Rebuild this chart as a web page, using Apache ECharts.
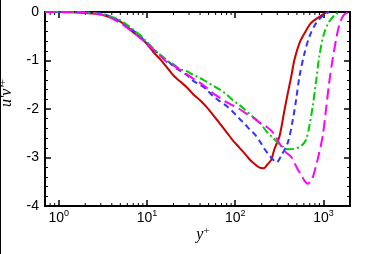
<!DOCTYPE html>
<html>
<head>
<meta charset="utf-8">
<script src="https://cdn.jsdelivr.net/npm/echarts@6/dist/echarts.min.js"></script>
<style>html,body{margin:0;padding:0;background:#fff;}#c{width:384px;height:254px;}</style>
</head>
<body>
<div id="c"></div>
<script>
// ---- data ----
const redX = [0.7,1,1.5,2,3,4,5,6,7,8.4,10,11.9,14.1,17,20,24,28.3,33.6,40,47.5,56.6,67,80,94.5,112,130,146,165,189,210,233,256,278,318,363,395,432,470,535,610,720,899,1010,1100];
const redY = [0,0,-0.01,-0.02,-0.05,-0.12,-0.2,-0.3,-0.42,-0.52,-0.66,-0.83,-0.97,-1.15,-1.31,-1.44,-1.55,-1.7,-1.82,-1.96,-2.13,-2.3,-2.48,-2.65,-2.8,-2.93,-3.04,-3.13,-3.21,-3.22,-3.14,-3.05,-2.83,-2.56,-2.01,-1.67,-1.33,-0.98,-0.64,-0.44,-0.23,-0.1,-0.04,0];

const blueX = [0.7,1,1.5,2,3,4,5,6,7,8.4,10,11.9,14.1,17,20,24,28.3,33.6,40,47.5,56.6,67,80,94.5,112,130,146,166,189,216,250,278,295,331,395,450,491,535,610,693,825,1010,1160];
const blueY = [0,0,0,-0.01,-0.03,-0.1,-0.2,-0.3,-0.38,-0.5,-0.64,-0.78,-0.88,-1.0,-1.12,-1.22,-1.3,-1.42,-1.5,-1.6,-1.74,-1.84,-1.94,-2.06,-2.2,-2.32,-2.42,-2.52,-2.66,-2.83,-2.98,-3.07,-3.1,-2.97,-2.69,-2.22,-1.8,-1.33,-0.85,-0.51,-0.23,-0.06,0];

const greenX = [0.7,1,1.5,2,3,4,5,6,7,8.4,10,11.9,14.1,16.8,20,23.7,28.3,33.6,40,47.5,56.6,67,80,94.5,112,130,158,189,233,270,302,350,395,470,560,636,693,755,830,900,1010,1160,1390,1580];
const greenY = [0,0,0,-0.01,-0.04,-0.1,-0.17,-0.27,-0.36,-0.48,-0.62,-0.76,-0.88,-1.0,-1.08,-1.18,-1.22,-1.3,-1.36,-1.44,-1.52,-1.6,-1.7,-1.82,-1.92,-2.02,-2.16,-2.28,-2.49,-2.6,-2.69,-2.78,-2.83,-2.82,-2.76,-2.63,-2.35,-1.95,-1.4,-0.9,-0.46,-0.2,-0.04,0];

const magX = [0.7,1,1.5,2,3,4,5,6,7,8.4,10,11.9,14.1,16.8,20,24,28.3,33.6,40,47.5,56.6,67,80,94.5,112,130,166,189,233,269,331,379,432,510,570,610,661,710,755,860,980,1070,1160,1270,1390,1510,1700,1960];
const magY = [0,0,0,-0.01,-0.05,-0.13,-0.23,-0.33,-0.42,-0.54,-0.65,-0.78,-0.9,-1.03,-1.1,-1.2,-1.28,-1.38,-1.46,-1.56,-1.68,-1.77,-1.86,-1.93,-2.0,-2.08,-2.2,-2.28,-2.38,-2.49,-2.76,-2.9,-2.99,-3.24,-3.38,-3.48,-3.54,-3.5,-3.42,-3.04,-2.56,-2.01,-1.46,-0.98,-0.57,-0.27,-0.06,0];

const xMinorTicks = [0.8,0.9,2,3,4,5,6,7,8,9,20,30,40,50,60,70,80,90,200,300,400,500,600,700,800,900];
const xMin = 0.7, xMax = 2000;
const yMin = -4, yMax = 0;

function pairs(xs, ys) { return xs.map((x, i) => [x, ys[i]]); }

const chart = echarts.init(document.getElementById('c'), null, {renderer: 'canvas'});
const lbl = {fontFamily: 'Liberation Sans', fontSize: 14, color: '#000'};
const axLine = {show: true, onZero: false, lineStyle: {color: '#000', width: 2}};

function lineSeries(data, color, type) {
  return {
    type: 'line', data: data, showSymbol: false, smooth: 0.3, animation: false,
    xAxisIndex: 0, yAxisIndex: 0,
    lineStyle: {color: color, width: 2, type: type}
  };
}

chart.setOption({
  animation: false,
  grid: {left: 45, right: 34, top: 12, bottom: 48},
  xAxis: [
    {type: 'log', logBase: 10, min: xMin, max: xMax, position: 'bottom',
     axisLine: axLine, splitLine: {show: false},
     axisTick: {show: true, inside: true, length: 6, lineStyle: {color: '#000', width: 1.5}},
     axisLabel: {show: true, showMinLabel: false, showMaxLabel: false, margin: 3,
       formatter: v => '{b|10}{s|' + Math.round(Math.log10(v)) + '}',
       rich: {b: {fontFamily: 'Liberation Sans', fontSize: 14, color: '#000'},
              s: {fontFamily: 'Liberation Sans', fontSize: 9, color: '#000', padding: [0, 0, 9, 0]}}}},
    {type: 'log', logBase: 10, min: xMin, max: xMax, position: 'top',
     axisLine: axLine, splitLine: {show: false},
     axisTick: {show: true, inside: true, length: 6, lineStyle: {color: '#000', width: 1.5}},
     axisLabel: {show: false}}
  ],
  yAxis: [
    {type: 'value', min: yMin, max: yMax, interval: 1, position: 'left',
     axisLine: axLine, splitLine: {show: false},
     axisTick: {show: true, inside: true, length: 6, lineStyle: {color: '#000', width: 1.5}},
     minorTick: {show: true, splitNumber: 5, length: 3, lineStyle: {color: '#000', width: 1}},
     axisLabel: Object.assign({margin: 6}, lbl)},
    {type: 'value', min: yMin, max: yMax, interval: 1, position: 'right',
     axisLine: axLine, splitLine: {show: false},
     axisTick: {show: true, inside: true, length: 6, lineStyle: {color: '#000', width: 1.5}},
     minorTick: {show: true, splitNumber: 5, length: 3, lineStyle: {color: '#000', width: 1}},
     axisLabel: {show: false}}
  ],
  series: [
    {type: 'custom', xAxisIndex: 0, yAxisIndex: 0, silent: true, clip: false,
     data: xMinorTicks.map(v => [v, yMin]),
     renderItem: function (params, api) {
       const v = api.value(0);
       const b = api.coord([v, yMin]);
       const t = api.coord([v, yMax]);
       return {type: 'group', children: [
         {type: 'line', shape: {x1: b[0], y1: b[1], x2: b[0], y2: b[1] - 3}, style: {stroke: '#000', lineWidth: 1}},
         {type: 'line', shape: {x1: t[0], y1: t[1], x2: t[0], y2: t[1] + 3}, style: {stroke: '#000', lineWidth: 1}}
       ]};
     }},
    lineSeries(pairs(redX, redY), '#cc0000', 'solid'),
    lineSeries(pairs(blueX, blueY), '#3333ff', [6, 4]),
    lineSeries(pairs(greenX, greenY), '#00cc00', [8, 3, 2, 3]),
    lineSeries(pairs(magX, magY), '#ff00ff', [11, 5])
  ],
  graphic: [
    {type: 'line', shape: {x1: 0.5, y1: 0, x2: 0.5, y2: 254}, style: {stroke: '#000', lineWidth: 1}},
    {type: 'text', x: 7, y: 93, rotation: Math.PI / 2,
     style: {text: '{i|u\'v\'}{s|+}', textAlign: 'center', textVerticalAlign: 'middle',
       rich: {i: {fontFamily: 'Liberation Serif', fontStyle: 'italic', fontSize: 16, fill: '#000'},
              s: {fontFamily: 'Liberation Serif', fontSize: 11, fill: '#000', padding: [0, 0, 8, 0]}}}},
    {type: 'text', x: 203, y: 235,
     style: {text: '{i|y}{s|+}', textAlign: 'center', textVerticalAlign: 'middle',
       rich: {i: {fontFamily: 'Liberation Serif', fontStyle: 'italic', fontSize: 16, fill: '#000'},
              s: {fontFamily: 'Liberation Serif', fontSize: 11, fill: '#000', padding: [0, 0, 8, 0]}}}}
  ]
});
</script>
</body>
</html>
